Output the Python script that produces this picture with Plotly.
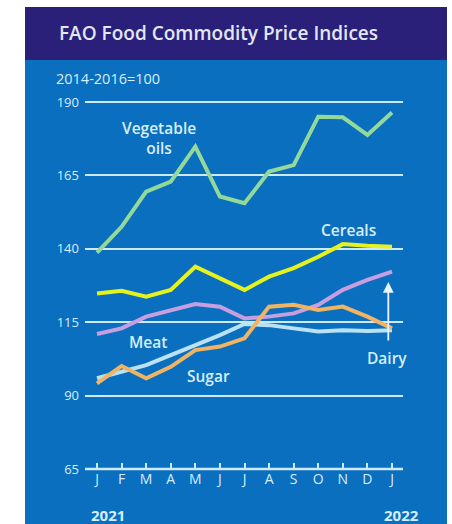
import plotly.graph_objects as go

months = ["J", "F", "M", "A", "M", "J", "J", "A", "S", "O", "N", "D", "J"]
x_idx = list(range(len(months)))

veg_oils = [138.7, 147.5, 159.5, 162.9, 174.8, 157.8, 155.5, 166.3, 168.5, 185.0, 184.8, 178.8, 186.4]
cereals = [124.8, 125.7, 123.7, 126.0, 133.9, 130.0, 126.0, 130.5, 133.4, 137.3, 141.6, 141.0, 140.7]
dairy = [111.0, 112.9, 116.9, 119.2, 121.2, 120.3, 116.3, 116.9, 118.0, 120.9, 126.0, 129.4, 132.2]
meat = [95.9, 98.2, 100.4, 103.8, 107.2, 110.6, 114.4, 114.0, 112.9, 111.8, 112.3, 112.0, 112.3]
sugar = [94.2, 100.1, 95.9, 99.8, 105.5, 106.7, 109.5, 120.3, 120.9, 119.2, 120.3, 116.9, 112.9]

y_ticks = [65, 90, 115, 140, 165, 190]

W, H = 452, 524
L, R, T, B = 85, 49, 93, 49
PW, PH = W - L - R, H - T - B

def px_x(p):
    return (p - L) / PW

def px_y(p):
    return (H - B - p) / PH

PX_PER_UNIT = 2.936
y_top = 190 + (102 - T) / PX_PER_UNIT
y_bot = y_top - PH / PX_PER_UNIT
axis_pos = (y_ticks[0] - y_bot) / (y_top - y_bot)

PANEL = "#0b6fc0"
HEADER = "#2a2079"
GRID = "#cdeafc"
TXT = "#d6eefc"
FONT = "Open Sans"

fig = go.Figure()

series = [
    ("Vegetable oils", veg_oils, "#93d99a"),
    ("Cereals", cereals, "#e6f21e"),
    ("Dairy", dairy, "#c79ee0"),
    ("Meat", meat, "#b9e3f4"),
    ("Sugar", sugar, "#f0b462"),
]
for name, vals, col in series:
    fig.add_trace(go.Scatter(x=x_idx, y=vals, mode="lines", name=name,
                             line=dict(color=col, width=4), hoverinfo="skip"))

x0_px = 97
step = (392 - 97) / 12
xr = [(L - x0_px) / step, (L + PW - x0_px) / step]

fig.update_layout(
    width=W, height=H,
    margin=dict(l=L, r=R, t=T, b=B, pad=0),
    paper_bgcolor="white",
    plot_bgcolor="rgba(0,0,0,0)",
    showlegend=False,
    font=dict(family=FONT, color=TXT),
    xaxis=dict(range=xr, tickvals=x_idx, ticktext=months, showgrid=False, zeroline=False,
               anchor="free", position=axis_pos,
               showline=False,
               ticks="inside", ticklen=6, tickwidth=1.5, tickcolor=GRID,
               tickfont=dict(size=14, color=TXT, family=FONT), fixedrange=True),
    yaxis=dict(range=[y_bot, y_top], tickvals=y_ticks, showgrid=True, gridcolor=GRID, gridwidth=2,
               zeroline=False, showline=False, ticks="", ticklabelstandoff=5,
               tickfont=dict(size=13, color=TXT, family=FONT), fixedrange=True),
    shapes=[
        dict(type="rect", xref="paper", yref="paper", x0=px_x(25), x1=px_x(447),
             y0=px_y(524), y1=px_y(60), fillcolor=PANEL, line=dict(width=0), layer="below"),
        dict(type="rect", xref="paper", yref="paper", x0=px_x(25), x1=px_x(447),
             y0=px_y(60), y1=px_y(7), fillcolor=HEADER, line=dict(width=0), layer="below"),
        dict(type="rect", xref="paper", yref="paper", x0=0, x1=1,
             y0=axis_pos - 0.003, y1=axis_pos + 0.003,
             fillcolor=GRID, line=dict(width=0), layer="above"),
    ],
)

ann = []
ann.append(dict(text="FAO Food Commodity Price Indices", xref="paper", yref="paper",
                x=px_x(57), y=px_y(33), xanchor="left", yanchor="middle", showarrow=False,
                font=dict(size=19, color="#e2e6f6", family=FONT, weight=600)))
ann.append(dict(text="2014-2016=100", xref="paper", yref="paper",
                x=px_x(54), y=px_y(79), xanchor="left", yanchor="middle", showarrow=False,
                font=dict(size=14.5, color=TXT, family=FONT)))
ann.append(dict(text="2021", xref="paper", yref="paper",
                x=px_x(89), y=px_y(515), xanchor="left", yanchor="middle", showarrow=False,
                font=dict(size=15, color=TXT, family=FONT, weight=700)))
ann.append(dict(text="2022", xref="paper", yref="paper",
                x=px_x(421), y=px_y(515), xanchor="right", yanchor="middle", showarrow=False,
                font=dict(size=15, color=TXT, family=FONT, weight=700)))

labels = [
    ("Vegetable<br>oils", 2.52, 177.6),
    ("Cereals", 10.21, 146.4),
    ("Meat", 2.07, 108.3),
    ("Sugar", 4.52, 96.7),
    ("Dairy", 11.8, 102.8),
]
for t, x, y in labels:
    ann.append(dict(text=t, x=x, y=y, xref="x", yref="y", showarrow=False,
                    font=dict(size=15.5, color=TXT, family=FONT, weight=600), align="center"))

ann.append(dict(text="", x=11.85, y=128.7, xref="x", yref="y", ax=0, ay=60,
                showarrow=True, arrowhead=2, arrowsize=1.2, arrowwidth=1.8, arrowcolor="#e8f4ff"))

fig.update_layout(annotations=ann)
fig.write_html("out.html", config={"displayModeBar": False},
               post_script="document.body.style.margin='0px';document.body.style.padding='0px';")
